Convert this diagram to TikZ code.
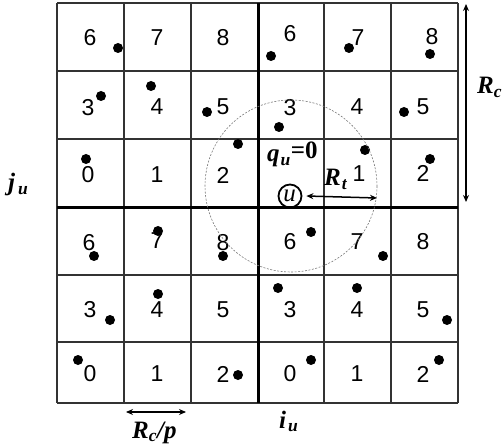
\documentclass[tikz,border=0pt]{standalone}
\usepackage{fontspec}
\setmainfont{Liberation Serif}
\newfontfamily\numfont{Liberation Sans}
\usetikzlibrary{arrows.meta}
\definecolor{gridline}{HTML}{333333}
\definecolor{range}{HTML}{777777}
\newcommand{\bi}[1]{\textbf{\textit{#1}}}
\newcommand{\sub}[1]{\kern1pt\textsubscript{\bi{#1}}}

\begin{document}
\begin{tikzpicture}[x=1pt, y=-1pt,
        thinline/.style={draw=gridline, line width=1.4pt},
        thickline/.style={draw=black, line width=3pt},
        cellnum/.style={font=\numfont\fontsize{23}{23}\selectfont, inner sep=0pt},
        sensor/.style={fill=black},
        mathlabel/.style={font=\fontsize{25}{25}\selectfont, inner sep=0pt},
        measure/.style={{Stealth[length=7pt,width=6pt]}-{Stealth[length=7pt,width=6pt]}, line width=1.5pt},
        rangecircle/.style={draw=range, dashed, line width=0.6pt, dash pattern=on 2pt off 1.5pt},
      ]
      \useasboundingbox (0,0) rectangle (503,446);

      % Grid of 6 x 6 cells
      \foreach \gx in {57,124,191,324,391,458}
        \draw[thinline] (\gx,3) -- (\gx,403);
      \foreach \gy in {3,71,139,275,342,403}
        \draw[thinline] (57,\gy) -- (458,\gy);
      \draw[thickline] (258,3) -- (258,403);
      \draw[thickline] (57,208) -- (458,208);

      % Cell numbers
      \foreach \nx/\ny/\nt [count=\k] in {
          90/38/6, 157/38/7, 223/38/8, 290/34/6, 358/38/7, 432/37/8,
          88/108/3, 157/107/4, 223/107/5, 290/108/3, 357/107/4, 423/107/5,
          88/175/0, 157/175/1, 223/175/2, 359/174/1, 423/173/2,
          89/243/6, 157/241/7, 223/243/8, 290/242/6, 357/242/7, 423/242/8,
          90/310/3, 157/310/4, 223/310/5, 290/310/3, 357/310/4, 423/310/5,
          90/374/0, 157/374/1, 223/374/2, 290/374/0, 357/374/1, 423/374/2}
        \node[cellnum] (num\k) at (\nx,\ny) {\nt};

      % Sensor nodes
      \foreach \sx/\sy in {
          118/48, 271/56, 349/48, 430/54,
          101/96, 151/86, 207/112, 279/127, 404/112,
          86/159, 238/144, 365/150, 430/159,
          94/256, 158/231, 223/256, 311/232, 383/256,
          110/320, 158/294, 278/288, 357/288, 447/320,
          78/360, 238/375, 311/360, 439/360}
        \fill[sensor] (\sx,\sy) circle (5);

      % Transmission range of u
      \draw[rangecircle] (291,186) circle (86);
      \node[circle, draw=black, line width=1.8pt, minimum size=23pt, inner sep=0pt,
        font=\fontsize{25}{25}\selectfont] (u) at (290,196) {\textit{u}\kern1pt};
      \coordinate (rtend) at (377,198);
      \draw[measure] ([xshift=4pt]u.east) -- (rtend);
      \node[mathlabel, anchor=base west] (rt) at (324,186) {\bi{R}\sub{t}};
      \node[mathlabel, anchor=base west] (qu) at (267,162) {\bi{q}\sub{u}\raisebox{3pt}{\textbf{=0}}};

      % Cell size and cluster size
      \coordinate (rctop) at (466,4);
      \coordinate (rcbot) at (466,202);
      \draw[measure] (rctop) -- (rcbot);
      \node[mathlabel, anchor=base west] (rc) at (477,94) {\bi{R}\textsubscript{\bi{c}}};
      \coordinate (cpleft) at (126,412);
      \coordinate (cpright) at (186,412);
      \draw[measure] (cpleft) -- (cpright);
      \node[mathlabel, anchor=base west] (rcp) at (132,438) {\bi{R}\textsubscript{\bi{c}}\bi{/p}};

      % Axis indices
      \node[mathlabel, anchor=base west] (ju) at (8,191) {\bi{j}\kern3pt\textsubscript{\bi{u}}};
      \node[mathlabel, anchor=base west] (iu) at (279,428) {\bi{i}\kern2pt\textsubscript{\bi{u}}};
    \end{tikzpicture}
\end{document}
